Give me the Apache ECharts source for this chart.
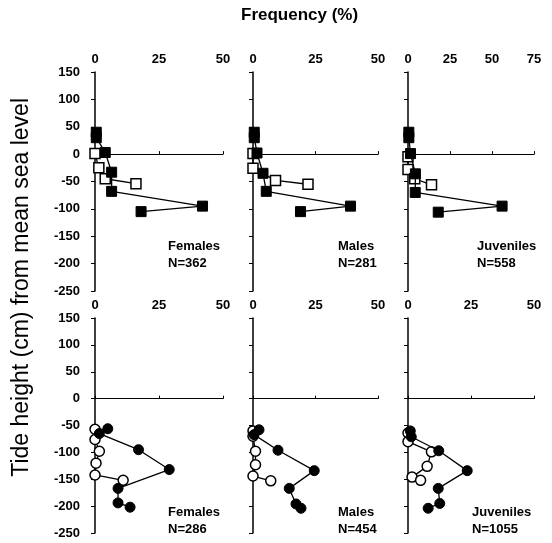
<!DOCTYPE html>
<html>
<head>
<meta charset="utf-8">
<script src="https://cdn.jsdelivr.net/npm/echarts@6/dist/echarts.min.js"></script>
<style>html,body{margin:0;padding:0;background:#fff}#c{width:552px;height:543px}</style>
</head>
<body>
<div id="c"></div>
<script>
// [frequency %, tide height cm]
const topFemalesFilled = [[0.5,40],[0.5,30],[4,3],[6.5,-33],[6.5,-68],[42,-95],[18,-105]];
const topFemalesOpen   = [[0,1],[1.5,-25],[4,-45],[16,-54]];
const topMalesFilled   = [[0.5,40],[0.5,30],[1.6,2],[4,-35],[5.3,-68],[39,-95],[19,-105]];
const topMalesOpen     = [[0,1],[0,-26],[9,-48],[22,-55]];
const topJuvFilled     = [[0.5,40],[0.5,30],[1.5,1],[4.4,-36],[4.3,-70],[56,-95],[18,-106]];
const topJuvOpen       = [[0,-5],[0,-28],[4,-45],[14,-56]];

const botFemalesFilled = [[5,-56],[1.7,-65],[17,-95],[29,-132],[9,-167],[9,-194],[13.7,-202]];
const botFemalesOpen   = [[0,-57],[0,-76],[1.7,-98],[0.4,-120],[0,-142],[11,-152]];
const botMalesFilled   = [[2.4,-58],[0.4,-67],[10,-96],[24.5,-134],[14.5,-167],[17.2,-196],[19.2,-204]];
const botMalesOpen     = [[0,-60],[0,-70],[1,-98],[1,-123],[0,-144],[7.1,-153]];
const botJuvFilled     = [[0.9,-60],[1.3,-71],[12.2,-97],[23.5,-134],[12,-167],[12.6,-195],[8,-204]];
const botJuvOpen       = [[0,-64],[0,-80],[9.3,-99],[7.6,-126],[1.6,-146],[5,-152]];

const panelLabels = ['Females\nN=362','Males\nN=281','Juveniles\nN=558','Females\nN=286','Males\nN=454','Juveniles\nN=1055'];
const xMaxes = [50, 50, 75, 50, 50, 50];
const yMin = -250, yMax = 150, yStep = 50;
const xStep = 25;

const font = 'Arial, "Liberation Sans", sans-serif';
const lefts = [95, 253, 408];
const widths = [128, 125, 126];
const tops = [72, 318];
const heights = [219, 215];

const grids = [], xAxes = [], yAxes = [], series = [], graphics = [];
const sets = [
  [topFemalesFilled, topFemalesOpen, 'rect'],
  [topMalesFilled, topMalesOpen, 'rect'],
  [topJuvFilled, topJuvOpen, 'rect'],
  [botFemalesFilled, botFemalesOpen, 'circle'],
  [botMalesFilled, botMalesOpen, 'circle'],
  [botJuvFilled, botJuvOpen, 'circle']
];
const labelPos = [[168,238],[338,238],[477,238],[168,504],[338,504],[472,504]];

for (let i = 0; i < 6; i++) {
  const r = Math.floor(i / 3), c = i % 3;
  grids.push({left: lefts[c], top: tops[r], width: widths[c], height: heights[r], containLabel: false});
  xAxes.push({
    gridIndex: i, type: 'value', position: 'top', min: 0, max: xMaxes[i], interval: xStep,
    axisLine: {show: true, lineStyle: {color: '#000', width: 1.2}},
    axisTick: {show: true, inside: false, length: 3, lineStyle: {color: '#000'}},
    axisLabel: {color: '#000', fontFamily: font, fontSize: 13, fontWeight: 'bold', margin: 6},
    splitLine: {show: false}
  });
  yAxes.push({
    gridIndex: i, type: 'value', min: yMin, max: yMax, interval: yStep,
    axisLine: {show: true, onZero: false, lineStyle: {color: '#000', width: 1.5}},
    axisTick: {show: true, length: 4, lineStyle: {color: '#000'}},
    axisLabel: {show: c === 0, color: '#000', fontFamily: font, fontSize: 13, fontWeight: 'bold', margin: 15},
    splitLine: {show: false}
  });
  const [filled, open, sym] = sets[i];
  const sz = 10;
  series.push({
    type: 'line', xAxisIndex: i, yAxisIndex: i, data: open, symbol: sym, symbolSize: sz,
    lineStyle: {color: '#000', width: 1.3}, itemStyle: {color: '#fff', borderColor: '#000', borderWidth: 1.5},
    z: 2, animation: false
  });
  series.push({
    type: 'line', xAxisIndex: i, yAxisIndex: i, data: filled, symbol: sym, symbolSize: sz,
    lineStyle: {color: '#000', width: 1.3}, itemStyle: {color: '#000', borderColor: '#000'},
    z: 3, animation: false
  });
  graphics.push({
    type: 'text', left: labelPos[i][0], top: labelPos[i][1],
    style: {text: panelLabels[i], fill: '#000', font: 'bold 13px ' + font, lineHeight: 17, textAlign: 'left'}
  });
}

graphics.push({type: 'text', left: 241, top: 7,
  style: {text: 'Frequency (%)', fill: '#000', font: 'bold 17px ' + font}});
graphics.push({type: 'text', left: 10, top: 98, rotation: Math.PI / 2,
  style: {text: 'Tide height (cm) from mean sea level', fill: '#000', font: '23px ' + font}});

const chart = echarts.init(document.getElementById('c'), null, {renderer: 'canvas'});
chart.setOption({
  backgroundColor: '#fff',
  animation: false,
  grid: grids, xAxis: xAxes, yAxis: yAxes, series: series,
  graphic: graphics
});
</script>
</body>
</html>
